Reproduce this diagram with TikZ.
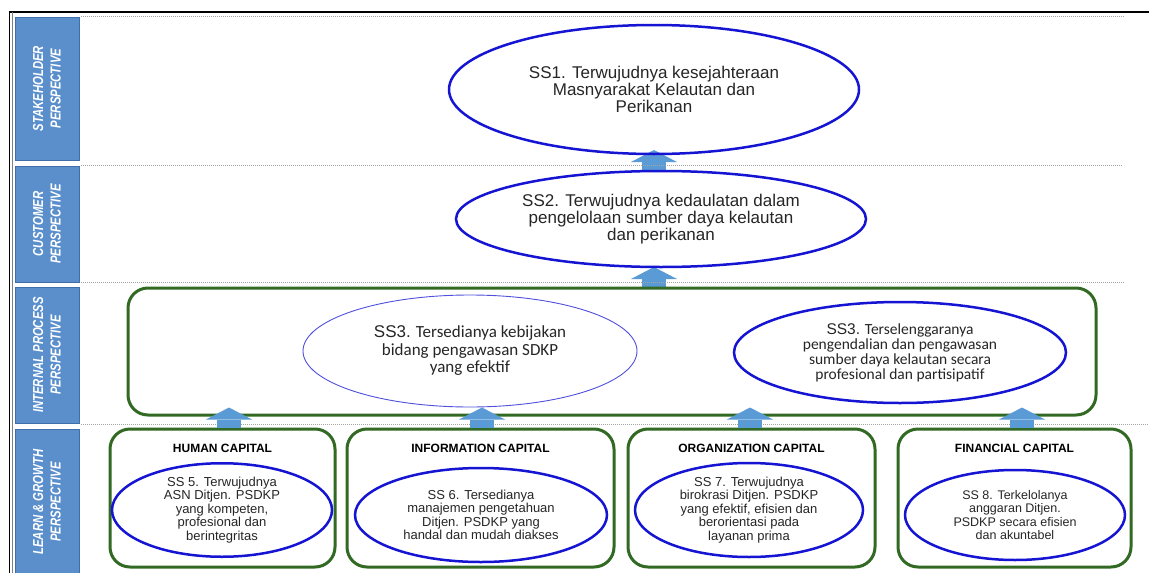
\documentclass[tikz,border=0pt]{standalone}
\usepackage{fontspec}
\setmainfont{Liberation Sans}
\newfontfamily\carlito{Carlito}
\newfontfamily\lblfont[FakeStretch=0.78]{Liberation Sans}
\usetikzlibrary{shapes.geometric,arrows.meta}
\definecolor{ellblue}{RGB}{20,20,210}
\definecolor{thinblue}{RGB}{80,80,220}
\definecolor{boxgreen}{RGB}{50,105,35}
\definecolor{lblblue}{RGB}{90,143,204}
\definecolor{lbledge}{RGB}{64,110,170}
\definecolor{arrblue}{RGB}{91,155,213}
\definecolor{txtgray}{RGB}{38,38,38}
\definecolor{dotgray}{RGB}{165,165,165}
\pgfdeclarelayer{bg}
\pgfsetlayers{bg,main}
\begin{document}
\begin{tikzpicture}[x=1pt,y=-1pt,
  lbl/.style={rectangle, fill=lblblue, draw=lbledge, line width=0.8pt, text=white, rotate=90, align=center, inner sep=0pt, minimum height=64pt, font=\lblfont\bfseries\itshape\fontsize{14.5}{17.5}\selectfont},
  goal/.style={ellipse, draw=ellblue, line width=2.5pt, inner sep=0pt, outer sep=0pt, align=center, text=txtgray},
  bigtxt/.style={font=\fontsize{17}{17}\selectfont},
  smalltxt/.style={font=\fontsize{13}{13.5}\selectfont},
  capbox/.style={rectangle, rounded corners=20pt, draw=boxgreen, line width=3pt, inner sep=0pt},
  captitle/.style={font=\bfseries\fontsize{12}{14}\selectfont, text=black, inner sep=0pt},
  barrow/.style={arrblue, line width=24pt, -{Triangle[width=46pt,length=12pt,line width=0pt]}},
  dotsep/.style={dotgray, line width=0.8pt, dash pattern=on 1pt off 1pt}
]
\useasboundingbox (0,0) rectangle (1149,573);
\begin{pgfonlayer}{bg}
\fill[white] (0,0) rectangle (1149,573);
\end{pgfonlayer}

% frame
\draw[black, line width=2pt] (9,12) -- (1149,12);
\draw[black, line width=1.5pt] (9.5,11) -- (9.5,573);
\draw[gray, line width=0.6pt] (12.5,12) -- (12.5,573);

% separators
\draw[dotsep] (81,16) -- (1125,16);
\draw[dotsep] (81,165) -- (1122,165);
\draw[dotsep] (81,282) -- (1125,282);
\draw[dotsep] (81,424) -- (1149,424);

% perspective labels
\node[lbl, minimum width=143pt] (lstake) at (47,88.5) {STAKEHOLDER\\PERSPECTIVE};
\node[lbl, minimum width=116pt] (lcust) at (47,224) {CUSTOMER\\PERSPECTIVE};
\node[lbl, minimum width=136pt] (lint) at (47,355) {INTERNAL PROCESS\\PERSPECTIVE};
\node[lbl, minimum width=146pt] (llearn) at (47,502) {LEARN \& GROWTH\\PERSPECTIVE};

% stakeholder & customer goals
\node[goal, bigtxt, minimum width=410pt, minimum height=129pt] (ss1) at (654,89.5)
  {SS1. Terwujudnya kesejahteraan\\Masnyarakat Kelautan dan\\Perikanan};
\node[goal, bigtxt, minimum width=410pt, minimum height=96pt] (ss2) at (661,219)
  {SS2. Terwujudnya kedaulatan dalam\\pengelolaan sumber daya kelautan\\dan perikanan};

% internal process
\node[capbox, minimum width=968pt, minimum height=127pt] (ip) at (612,351.5) {};
\node[goal, draw=thinblue, line width=0.9pt, minimum width=334pt, minimum height=112pt,
  font=\carlito\fontsize{17}{17.5}\selectfont] (ss3a) at (470,351)
  {{\normalfont SS3.} Tersedianya kebijakan\\bidang pengawasan SDKP\\yang efektif};
\node[goal, minimum width=332pt, minimum height=101pt,
  font=\carlito\fontsize{15.5}{15}\selectfont] (ss3b) at (900,352.5)
  {{\normalfont SS3.} Terselenggaranya\\pengendalian dan pengawasan\\sumber daya kelautan secara\\profesional dan partisipatif};

% learn & growth boxes
\node[capbox, minimum width=225pt, minimum height=138pt] (hc) at (222.5,498) {};
\node[capbox, minimum width=267pt, minimum height=138pt] (ic) at (480.5,498) {};
\node[capbox, minimum width=247pt, minimum height=138pt] (oc) at (751.5,498) {};
\node[capbox, minimum width=233pt, minimum height=138pt] (fc) at (1014.5,498) {};

\node[captitle] (hct) at (222.5,448) {HUMAN CAPITAL};
\node[captitle] (ict) at (480.5,448) {INFORMATION CAPITAL};
\node[captitle] (oct) at (751.5,448) {ORGANIZATION CAPITAL};
\node[captitle] (fct) at (1014.5,448) {FINANCIAL CAPITAL};

\node[goal, smalltxt, minimum width=220pt, minimum height=76pt] (ss5) at (222,510)
  {SS 5. Terwujudnya\\ASN Ditjen. PSDKP\\yang kompeten,\\profesional dan\\berintegritas};
\node[goal, smalltxt, minimum width=252pt, minimum height=94pt] (ss6) at (481,515)
  {SS 6. Tersedianya\\manajemen pengetahuan\\Ditjen. PSDKP yang\\handal dan mudah diakses};
\node[goal, smalltxt, minimum width=228pt, minimum height=94pt] (ss7) at (749,510)
  {SS 7. Terwujudnya\\birokrasi Ditjen. PSDKP\\yang efektif, efisien dan\\berorientasi pada\\layanan prima};
\node[goal, font=\fontsize{12.5}{13.5}\selectfont, minimum width=220pt, minimum height=90pt] (ss8) at (1015,515)
  {SS 8. Terkelolanya\\anggaran Ditjen.\\PSDKP secara efisien\\dan akuntabel};

% block arrows
\begin{pgfonlayer}{bg}
\draw[barrow, shorten >=-4pt] (ss1.south |- ss2.north) -- (ss1.south);
\draw[barrow] (ss1.south |- ip.north) -- (ss1.south |- ss2.south);
\end{pgfonlayer}
\coordinate (a3s) at ([xshift=6.5pt]hc.north);
\coordinate (a3e) at (a3s |- ip.south);
\coordinate (a4s) at ([xshift=1.5pt]ic.north);
\coordinate (a4e) at (a4s |- ip.south);
\coordinate (a5s) at ([xshift=-1.5pt]oc.north);
\coordinate (a5e) at (a5s |- ip.south);
\coordinate (a6s) at ([xshift=7.5pt]fc.north);
\coordinate (a6e) at (a6s |- ip.south);
\draw[barrow, shorten >=-9pt] (a3s) -- (a3e);
\draw[barrow, shorten >=-9pt] (a4s) -- (a4e);
\draw[barrow, shorten >=-9pt] (a5s) -- (a5e);
\draw[barrow, shorten >=-9pt] (a6s) -- (a6e);
\end{tikzpicture}
\end{document}
